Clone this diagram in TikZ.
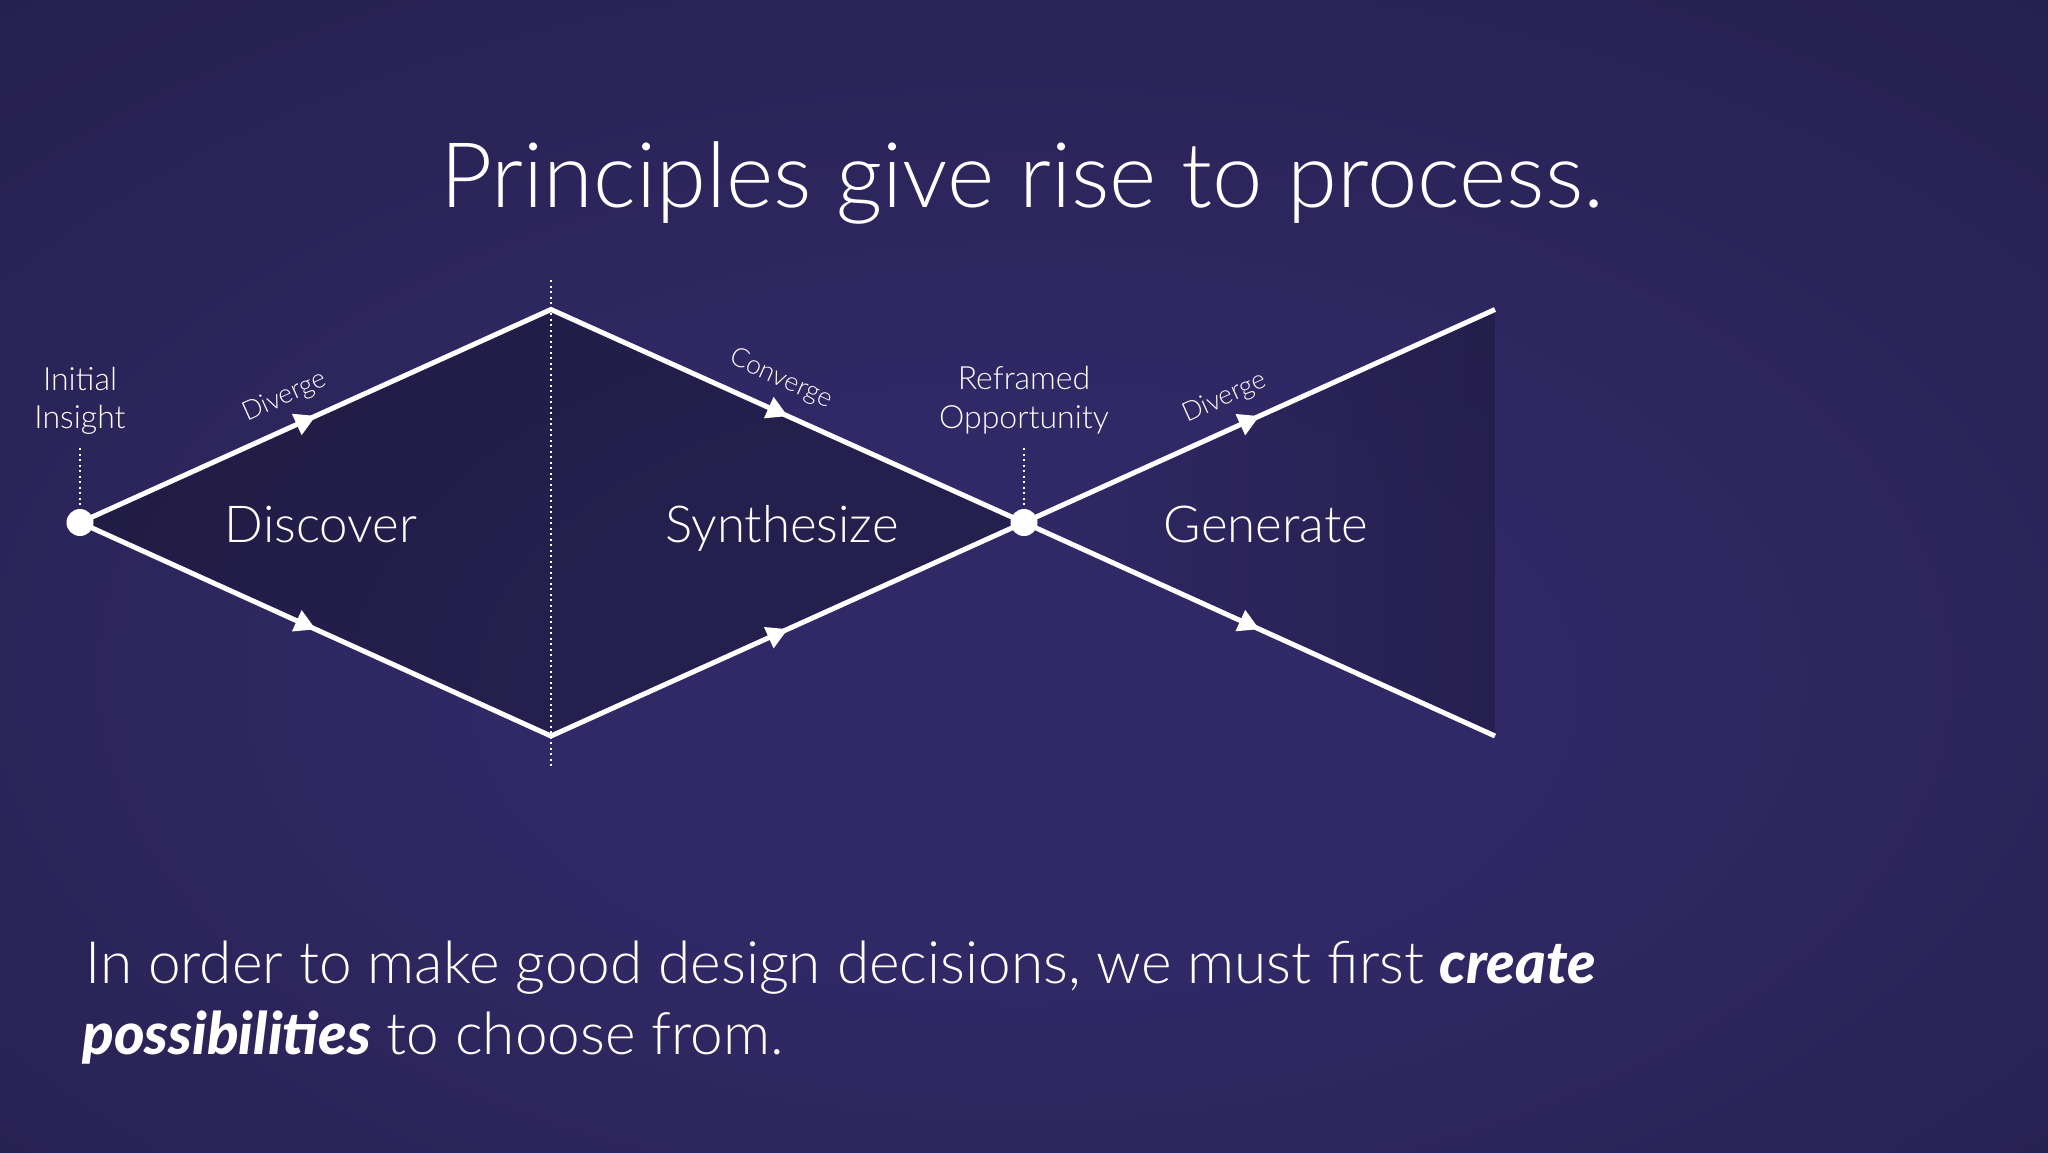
\documentclass[tikz,border=0pt]{standalone}
\usepackage{fontspec}
\setmainfont{Lato Light}
\newfontfamily\bifont{Lato Black Italic}
\usetikzlibrary{arrows.meta,decorations.markings,fadings}
\definecolor{bgc}{RGB}{49,41,102}
\definecolor{bge}{RGB}{28,24,56}
\pgfdeclareradialshading{bgshade}{\pgfpoint{0bp}{-6bp}}{color(0bp)=(bgc); color(12bp)=(bgc); color(62bp)=(bge); color(80bp)=(bge)}
\begin{document}
\begin{tikzpicture}[x=1pt,y=-1pt,
  flow/.style={draw=white, line width=5pt, line join=miter},
  twoheads/.style={postaction={decorate,decoration={markings,
      mark=at position 0.25 with {\arrow[white]{Triangle[length=21pt,width=22pt]}},
      mark=at position 0.75 with {\arrow[white]{Triangle[length=21pt,width=22pt]}}}}},
  onehead/.style={postaction={decorate,decoration={markings,
      mark=at position 0.5 with {\arrow[white]{Triangle[length=21pt,width=22pt]}}}}},
  dotline/.style={draw=white, line width=2pt, dash pattern=on 2pt off 3.5pt},
  dotnode/.style={circle, fill=white, inner sep=0pt, minimum size=27pt},
  lbl/.style={text=white, inner sep=0pt},
  small/.style={lbl, font=\fontsize{32}{38}\selectfont, anchor=base},
  tiny/.style={lbl, font=\fontsize{26.5}{30}\selectfont},
  phase/.style={lbl, font=\fontsize{51}{60}\selectfont, anchor=base},
  msg/.style={lbl, anchor=base west, font=\fontsize{58.5}{70}\selectfont},
]
\useasboundingbox (0,0) rectangle (2048,1152);
\shade[shading=bgshade] (0,0) rectangle (2048,1152);

% geometry
\coordinate (a0) at (80,522.5);
\coordinate (m0) at (1024,522.5);
\coordinate (T1) at (551,309.5);
\coordinate (B1) at (551,736);
\coordinate (T2) at (1495,309.5);
\coordinate (B2) at (1495,736);

% darker interiors
\fill[black, fill opacity=0.24] (a0) -- (T1) -- (m0) -- (B1) -- cycle;
\fill[black, fill opacity=0.22, path fading=west] (m0) -- (T2) -- (B2) -- cycle;

% dots
\node[dotnode] (A) at (a0) {};
\node[dotnode] (M) at (m0) {};

% dotted guides
\coordinate (at) at (80,448);
\coordinate (mt) at (1024,448);
\coordinate (vt) at (551,280);
\coordinate (vb) at (551,768);
\draw[dotline] (at) -- (A);
\draw[dotline] (mt) -- (M);
\draw[dotline] (vt) -- (vb);

% flow lines
\draw[flow, twoheads] (A.center) -- (T1) -- (M.center);
\draw[flow, twoheads] (A.center) -- (B1) -- (M.center);
\draw[flow, onehead] (M.center) -- (T2);
\draw[flow, onehead] (M.center) -- (B2);

% labels
\node[lbl, anchor=base, font=\fontsize{90.5}{100}\selectfont] (title) at (1022,207) {Principles give rise to process.};

\node[small] (ins1) at (80,390) {Initial};
\node[small] (ins2) at (80,428) {Insight};
\node[small] (ref1) at (1024,389) {Reframed};
\node[small] (ref2) at (1024,428) {Opportunity};

\node[tiny, rotate=24.3] (dv1) at (285,397) {Diverge};
\node[tiny, rotate=-24.3] (cv1) at (781,379) {Converge};
\node[tiny, rotate=24.3] (dv2) at (1225,398) {Diverge};

\node[phase] (ph1) at (321,542) {Discover};
\node[phase] (ph2) at (782,542) {Synthesize};
\node[phase] (ph3) at (1266,542) {Generate};

\node[msg] (msg1) at (85,983) {In order to make good design decisions, we must first {\bifont create}};
\node[msg] (msg2) at (82,1054) {{\bifont possibilities} to choose from.};
\end{tikzpicture}
\end{document}
